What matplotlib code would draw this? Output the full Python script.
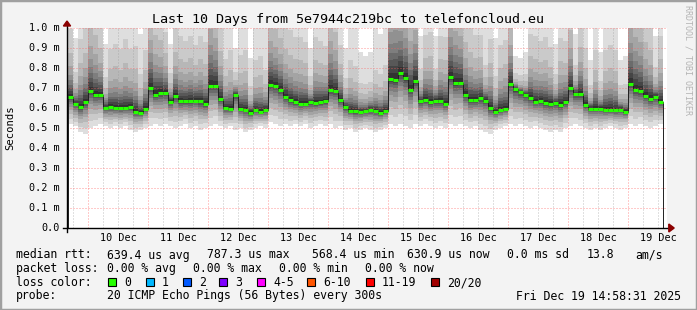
import numpy as np
import matplotlib
matplotlib.use("Agg")
import matplotlib.pyplot as plt
from matplotlib.patches import Rectangle, Polygon

# 2-hour steps, hours counted from 10 Dec 00:00
hours = np.arange(-8, 230, 2)

# median rtt (ms) per step
median = [
    0.655, 0.62, 0.605, 0.63,
    0.685, 0.665, 0.665, 0.60, 0.605, 0.60, 0.60, 0.60, 0.605, 0.58, 0.575, 0.597,
    0.70, 0.667, 0.675, 0.675, 0.632, 0.66, 0.633, 0.633, 0.635, 0.637, 0.633, 0.62,
    0.71, 0.71, 0.645, 0.60, 0.595, 0.665, 0.595, 0.59, 0.577, 0.59, 0.582, 0.59,
    0.717, 0.71, 0.69, 0.655, 0.64, 0.628, 0.62, 0.622, 0.628, 0.625, 0.628, 0.635,
    0.69, 0.687, 0.64, 0.603, 0.587, 0.583, 0.58, 0.583, 0.59, 0.585, 0.577, 0.585,
    0.745, 0.74, 0.775, 0.75, 0.69, 0.735, 0.633, 0.64, 0.628, 0.637, 0.633, 0.622,
    0.755, 0.725, 0.725, 0.665, 0.638, 0.64, 0.648, 0.637, 0.60, 0.58, 0.59, 0.595,
    0.72, 0.693, 0.68, 0.665, 0.65, 0.632, 0.635, 0.626, 0.62, 0.623, 0.615, 0.628,
    0.70, 0.668, 0.67, 0.615, 0.597, 0.595, 0.597, 0.59, 0.59, 0.588, 0.592, 0.582,
    0.72, 0.69, 0.683, 0.66, 0.647, 0.655, 0.63,
]

# fastest and slowest ping per step (ms)
ping_min = [
    0.52, 0.51, 0.48, 0.47,
    0.50, 0.51, 0.52, 0.51, 0.50, 0.51, 0.50, 0.51, 0.49, 0.48, 0.49, 0.50,
    0.51, 0.52, 0.51, 0.52, 0.51, 0.50, 0.51, 0.52, 0.50, 0.51, 0.49, 0.50,
    0.51, 0.52, 0.51, 0.50, 0.51, 0.49, 0.50, 0.48, 0.49, 0.50, 0.51, 0.50,
    0.53, 0.52, 0.51, 0.52, 0.51, 0.52, 0.51, 0.52, 0.50, 0.51, 0.52, 0.51,
    0.52, 0.50, 0.51, 0.49, 0.50, 0.48, 0.49, 0.50, 0.49, 0.48, 0.49, 0.50,
    0.52, 0.51, 0.52, 0.51, 0.50, 0.52, 0.51, 0.52, 0.51, 0.50, 0.51, 0.50,
    0.52, 0.51, 0.52, 0.51, 0.50, 0.51, 0.49, 0.48, 0.47, 0.49, 0.50, 0.51,
    0.52, 0.51, 0.52, 0.51, 0.50, 0.51, 0.50, 0.49, 0.48, 0.49, 0.48, 0.50,
    0.51, 0.52, 0.51, 0.50, 0.49, 0.50, 0.49, 0.50, 0.51, 0.50, 0.49, 0.50,
    0.52, 0.51, 0.52, 0.51, 0.50, 0.51, 0.52,
]
ping_max = [
    1.35, 0.95, 1.3, 1.4,
    1.7, 1.6, 1.4, 0.92, 1.2, 1.25, 1.2, 1.3, 1.2, 1.25, 0.97, 1.2,
    1.8, 1.6, 1.5, 1.3, 0.92, 1.35, 1.3, 1.25, 1.3, 1.2, 1.3, 1.25,
    2.0, 1.8, 1.4, 1.1, 1.2, 0.9, 1.15, 1.2, 0.85, 1.1, 1.15, 1.0,
    1.7, 1.6, 1.5, 1.4, 1.35, 1.3, 1.3, 1.25, 0.9, 1.3, 1.25, 1.2,
    1.8, 1.6, 1.2, 0.9, 1.1, 1.05, 0.88, 0.86, 0.88, 1.0, 0.97, 1.05,
    2.2, 2.3, 2.1, 2.0, 1.8, 1.9, 0.96, 1.3, 1.35, 0.96, 1.3, 1.3,
    2.0, 1.9, 1.8, 1.5, 1.4, 1.3, 1.3, 1.0, 1.3, 0.95, 1.25, 1.3,
    1.6, 0.86, 0.85, 0.88, 1.3, 1.3, 1.25, 1.3, 1.2, 0.92, 1.3, 1.25,
    1.6, 0.97, 1.4, 1.2, 0.84, 1.2, 0.88, 1.2, 1.25, 1.2, 0.84, 0.86,
    2.0, 1.9, 1.8, 1.5, 1.4, 0.96, 1.3,
]

# where the 20 pings sit between median and the extremes (shape of the smoke)
lower_frac = [1.0, 0.8, 0.62, 0.48, 0.36, 0.26, 0.18, 0.11, 0.06, 0.02]
upper_frac = [0.022, 0.044, 0.066, 0.088, 0.12, 0.16, 0.22, 0.32, 0.49, 1.0]

day_labels = ["10 Dec", "11 Dec", "12 Dec", "13 Dec", "14 Dec",
              "15 Dec", "16 Dec", "17 Dec", "18 Dec", "19 Dec"]
y_ticks = [0.0, 0.1, 0.2, 0.3, 0.4, 0.5, 0.6, 0.7, 0.8, 0.9, 1.0]
y_labels = ["0.0", "0.1 m", "0.2 m", "0.3 m", "0.4 m", "0.5 m",
            "0.6 m", "0.7 m", "0.8 m", "0.9 m", "1.0 m"]

loss_labels = ["0", "1", "2", "3", "4-5", "6-10", "11-19", "20/20"]
loss_colors = ["#26ff00", "#00b8ff", "#0059ff", "#7e00ff",
               "#ff00ff", "#ff5500", "#ff0000", "#a10000"]

W, H = 697, 310
MONO = "DejaVu Sans Mono"
plt.rcParams["lines.scale_dashes"] = False

fig = plt.figure(figsize=(W / 100, H / 100), dpi=100)
fig.patch.set_facecolor("#f3f3f3")


def fx(x):
    return x / W


def fy(y):
    return 1 - y / H


ax = fig.add_axes([fx(67), fy(228), 600 / W, 200 / H])
ax.set_facecolor("white")
ax.set_xlim(-8.4, 231.6)
ax.set_ylim(0, 1.0)
for s in ax.spines.values():
    s.set_visible(False)
ax.set_xticks([])
ax.set_yticks([])

# smoke
med = np.array(median)
lo = np.array(ping_min)
hi = np.array(ping_max)
pings = [med - f * (med - lo) for f in lower_frac] + [med + f * (hi - med) for f in upper_frac]
edges = np.append(hours, hours[-1] + 2)
for j in range(len(pings) - 1):
    g = int(50 + 172 * abs(j - 9) / 9)
    c = "#%02x%02x%02x" % (g, g, g)
    ax.stairs(pings[j + 1], edges, baseline=pings[j], fill=True,
              color=c, lw=0, antialiased=False, zorder=1)

# grid (dotted, 1px on / 2px off)
dots = (0, (0.72, 1.44))
for h in range(-6, 232, 6):
    if h % 24 == 0:
        ax.axvline(h, color="#ff5f5f", alpha=0.65, lw=0.72, ls=dots, zorder=3)
    else:
        ax.axvline(h, color="#999999", alpha=0.6, lw=0.72, ls=dots, zorder=3)
for v in y_ticks[1:]:
    ax.axhline(v, color="#ff5f5f", alpha=0.65, lw=0.72, ls=dots, zorder=3)

# median line
ax.stairs(med, edges, color="#202020", lw=0.7, zorder=4)
ax.hlines(med, edges[:-1], edges[1:], color="#26ff00", lw=2.2, zorder=5)

# axes with arrows
ax.plot([-0.007, 1.008], [0, 0], transform=ax.transAxes, color="black",
        lw=1.0, clip_on=False, zorder=6)
ax.plot([0, 0], [-0.02, 1.025], transform=ax.transAxes, color="black",
        lw=1.0, clip_on=False, zorder=6)
ax.add_patch(Polygon([[-0.006, 1.01], [0.006, 1.01], [0, 1.035]], closed=True,
                     transform=ax.transAxes, color="#8b0000", clip_on=False, zorder=7))
ax.add_patch(Polygon([[1.003, -0.02], [1.003, 0.02], [1.012, 0]], closed=True,
                     transform=ax.transAxes, color="#8b0000", clip_on=False, zorder=7))

# tick labels
for v, lab in zip(y_ticks, y_labels):
    ax.text(-0.012, v, lab, transform=ax.get_yaxis_transform(), ha="right",
            va="center", family=MONO, fontsize=7.3)
for i, lab in enumerate(day_labels):
    ax.text(12 + 24 * i, -0.05, lab, transform=ax.get_xaxis_transform(),
            ha="center", va="center", family=MONO, fontsize=7.3)

fig.text(fx(10), fy(128), "Seconds", rotation=90, ha="center", va="center",
         family=MONO, fontsize=7.6)
fig.text(fx(348), fy(19), "Last 10 Days from 5e7944c219bc to telefoncloud.eu",
         ha="center", va="center", family=MONO, fontsize=9.6)
fig.text(fx(688), fy(60), "RRDTOOL / TOBI OETIKER", rotation=270, ha="center",
         va="center", family=MONO, fontsize=6.0, color="#b4b4b4")

# legend
fs = 8.3
line1 = [(16, "median rtt:"), (107, "639.4 us avg"), (207, "787.3 us max"),
         (312, "568.4 us min"), (407, "630.9 us now"), (507, "0.0 ms sd"),
         (587, "13.8"), (635, "am/s")]
line2 = [(16, "packet loss:"), (107, "0.00 % avg"), (193, "0.00 % max"),
         (279, "0.00 % min"), (365, "0.00 % now")]
for x, t in line1:
    fig.text(fx(x), fy(255), t, ha="left", va="center", family=MONO, fontsize=fs)
for x, t in line2:
    fig.text(fx(x), fy(268.5), t, ha="left", va="center", family=MONO, fontsize=fs)

fig.text(fx(16), fy(282.5), "loss color:", ha="left", va="center", family=MONO, fontsize=fs)
box_x = [108, 146, 183, 219, 257, 307, 366, 431]
for bx, lab, col in zip(box_x, loss_labels, loss_colors):
    fig.patches.append(Rectangle((fx(bx), fy(286)), 8 / W, 8 / H, transform=fig.transFigure,
                                 facecolor=col, edgecolor="black", lw=0.8))
    fig.text(fx(bx + 16), fy(282.5), lab, ha="left", va="center", family=MONO, fontsize=fs)

fig.text(fx(16), fy(296), "probe:", ha="left", va="center", family=MONO, fontsize=fs)
fig.text(fx(107), fy(296), "20 ICMP Echo Pings (56 Bytes) every 300s",
         ha="left", va="center", family=MONO, fontsize=fs)
fig.text(fx(681), fy(296), "Fri Dec 19 14:58:31 2025", ha="right", va="center",
         family=MONO, fontsize=fs)

# frame
fig.patches.append(Rectangle((0, 0), 1, 1, transform=fig.transFigure, fill=False,
                             edgecolor="#a0a0a0", lw=2.5))

fig.savefig("out.png", dpi=100, facecolor=fig.get_facecolor())
